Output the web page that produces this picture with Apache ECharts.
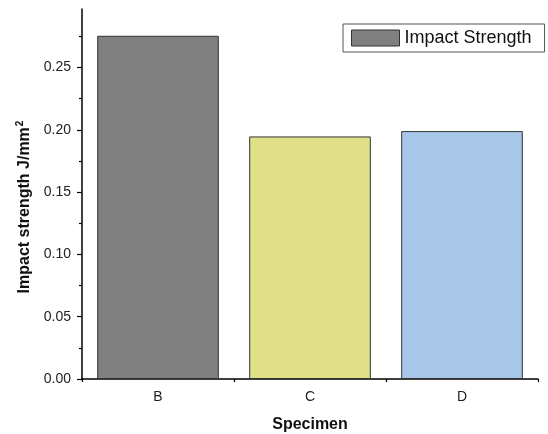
<!DOCTYPE html>
<html><head><meta charset="utf-8">
<script src="https://cdn.jsdelivr.net/npm/echarts@6/dist/echarts.min.js"></script>
<style>html,body{margin:0;padding:0;background:#fff}#c{width:548px;height:434px}</style>
</head><body><div id="c"></div>
<script>
var categories = ['B', 'C', 'D'];
var impactValues = [0.2755, 0.1947, 0.1990];
var barColors = ['#808080', '#dfe088', '#a8c6e8'];
var yMajorTicks = [0, 0.05, 0.10, 0.15, 0.20, 0.25];
var yMinorTicks = [0.025, 0.075, 0.125, 0.175, 0.225, 0.275];
var yMax = 0.297;
var seriesName = 'Impact Strength';

var chart = echarts.init(document.getElementById('c'), null, {renderer: 'canvas'});
var font = 'Arial, "Liberation Sans", sans-serif';
var axisLineStyle = {color: '#000', width: 1.5};
chart.setOption({
  animation: false,
  textStyle: {fontFamily: font},
  grid: {left: 82, right: 10, top: 9, bottom: 55, containLabel: false, outerBoundsMode: 'none'},
  legend: {
    data: [{name: seriesName, icon: 'rect'}],
    left: 343, top: 24,
    orient: 'horizontal',
    itemWidth: 48, itemHeight: 16, itemGap: 5,
    padding: [5, 13, 5, 8],
    borderColor: '#555', borderWidth: 1,
    textStyle: {fontSize: 18, color: '#111', fontFamily: font},
    itemStyle: {borderColor: '#333', borderWidth: 1}
  },
  xAxis: [{
    type: 'category', data: categories,
    name: 'Specimen', nameLocation: 'middle', nameGap: 38,
    nameTextStyle: {fontSize: 16, fontWeight: 'bold', color: '#111', fontFamily: font},
    axisLine: {lineStyle: axisLineStyle},
    axisTick: {alignWithLabel: true, length: 5, lineStyle: {color: '#000', width: 1.2}},
    axisLabel: {fontSize: 14, color: '#222', margin: 11, fontFamily: font}
  }, {
    type: 'category', data: categories, position: 'bottom',
    axisLine: {show: false},
    axisTick: {show: true, length: 3, lineStyle: {color: '#000', width: 1.2}},
    axisLabel: {show: false}
  }],
  yAxis: [{
    type: 'value', min: 0, max: yMax,
    name: '{a|Impact strength J/mm}{b|2}', nameLocation: 'middle', nameGap: 46,
    nameTextStyle: {
      fontSize: 16, fontWeight: 'bold', color: '#111', fontFamily: font,
      padding: [0, 0, 0, -26],
      rich: {
        a: {fontSize: 16, fontWeight: 'bold', color: '#111', fontFamily: font},
        b: {fontSize: 10, fontWeight: 'bold', color: '#111', fontFamily: font, padding: [0, 0, 10, 1]}
      }
    },
    splitLine: {show: false},
    axisLine: {show: true, lineStyle: axisLineStyle},
    axisTick: {show: true, length: 5, customValues: yMajorTicks, lineStyle: {color: '#000', width: 1.2}},
    axisLabel: {
      fontSize: 14, color: '#222', margin: 11, fontFamily: font,
      customValues: yMajorTicks,
      formatter: function (v) { return v.toFixed(2); }
    }
  }, {
    type: 'value', min: 0, max: yMax, position: 'left',
    splitLine: {show: false},
    axisLine: {show: false},
    axisTick: {show: true, length: 3, customValues: yMinorTicks, lineStyle: {color: '#000', width: 1.2}},
    axisLabel: {show: false}
  }],
  series: [{
    name: seriesName, type: 'bar',
    xAxisIndex: 0, yAxisIndex: 0,
    barCategoryGap: '20%',
    itemStyle: {color: barColors[0], borderColor: '#333', borderWidth: 1},
    data: impactValues.map(function (v, i) {
      return {value: v, itemStyle: {color: barColors[i]}};
    })
  }]
});
</script></body></html>
